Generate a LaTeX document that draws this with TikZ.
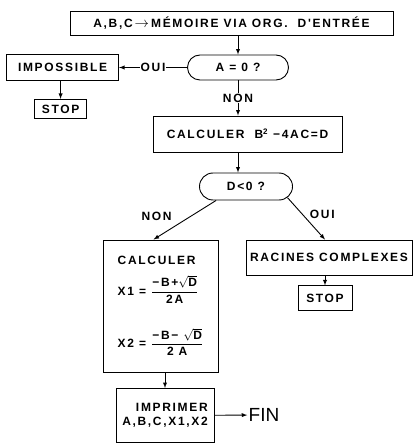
\documentclass[tikz,border=0pt]{standalone}
\usepackage{fontspec}
\usepackage{amsmath}
\usetikzlibrary{positioning, shapes.misc, arrows}
\newfontfamily\lettrage[LetterSpace=14]{Liberation Sans}
\newfontfamily\plainsans{Liberation Sans}

\begin{document}
\begin{tikzpicture}[x=1pt, y=1pt,
  boite/.style = {draw, line width=0.9pt, inner sep=2pt, font=\lettrage\bfseries\fontsize{12}{14}\selectfont},
  test/.style = {boite, rounded rectangle},
  lab/.style = {font=\lettrage\bfseries\fontsize{12}{14}\selectfont, inner sep=1pt},
  line width=0.9pt ]

\useasboundingbox (0,0) rectangle (417,-443);

% entree
\node[boite, minimum width=323pt, minimum height=24pt] (entree) at (231.5,-23) {A,B,C\,{\fontsize{15}{15}\selectfont$\rightarrow$}\,MÉMOIRE VIA ORG.\ \ D'ENTRÉE};

% A = 0 ?
\node[test, minimum width=105pt, minimum height=25pt] (testA) at (238,-67.5) {A\ =\ 0\ ?};
\draw[-latex] (testA.north |- entree.south) -- (testA.north);

% impossible
\node[boite, minimum width=112pt, minimum height=26pt, left=68pt of testA] (imposs) {IMPOSSIBLE};
\draw[-latex] (testA.west) -- node[lab, fill=white]{OUI} (imposs.east);

% stop 1
\node[boite, minimum width=52pt, minimum height=19pt, below=18pt of imposs, xshift=-2pt] (stop1) {STOP};
\draw[-latex] (stop1.north |- imposs.south) -- (stop1.north);

% calcD
\node[boite, minimum width=189pt, minimum height=36pt] (calcD) at (247.5,-134) {CALCULER\ \ B\textsuperscript{2}\ −4AC=D};
\draw[-latex] (testA.south) -- node[lab, fill=white]{NON} (testA.south |- calcD.north);

% D<0 ?
\node[test, minimum width=97pt, minimum height=27pt] (testD) at (246,-186.5) {D<0\ ?};
\draw[-latex] (testA.south |- calcD.south) -- (testA.south |- testD.north);

% calc X1 X2
\node[boite, minimum width=115pt, minimum height=132pt, align=left] (calc) at (160.5,-306)
  {CALCULER\\[10pt]
   X1 = $\dfrac{\text{−B+}\sqrt{\text{D}}}{\text{2A}}$\\[24pt]
   X2 = $\dfrac{\text{−B− }\sqrt{\text{D}}}{\text{2 A}}$};
\draw[-latex] (testD.205) -- node[lab, pos=.4, left=18pt]{NON} ([xshift=-7pt]calc.north);

% racines
\node[boite, minimum width=166pt, minimum height=35pt] (racines) at (329,-257.5) {RACINES COMPLEXES};
\draw[-latex] (testD.-15) -- node[lab, pos=.4, right=6pt]{OUI} ([xshift=-4pt]racines.north);

% stop 2
\node[boite, minimum width=54pt, minimum height=25pt, below=10pt of racines, xshift=-4pt] (stop2) {STOP};
\draw[-latex] (stop2.north |- racines.south) -- (stop2.north);

% imprimer
\node[boite, minimum width=98pt, minimum height=54pt, align=right] (imprim) at (165,-415.5) {IMPRIMER\\A,B,C,X1,X2};
\draw[-latex] (imprim.north |- calc.south) -- (imprim.north);

% FIN
\node[font=\plainsans\fontsize{19}{20}\selectfont, inner sep=1pt] (fin) at (264,-415) {FIN};
\draw[-latex] (imprim) -- (fin);

\end{tikzpicture}
\end{document}
